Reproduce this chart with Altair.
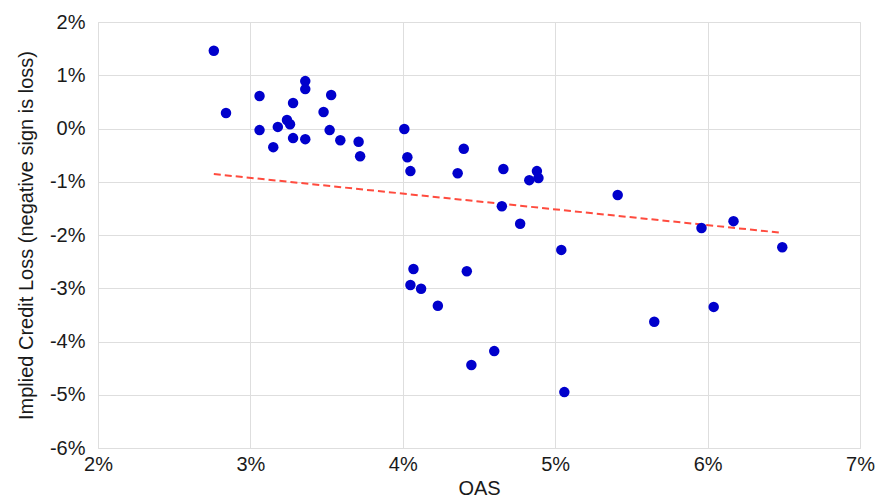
import altair as alt
import pandas as pd

oas = [2.76, 2.84, 3.06, 3.06, 3.15, 3.18, 3.24, 3.26, 3.28, 3.28,
       3.36, 3.36, 3.36, 3.48, 3.53, 3.52, 3.59, 3.71, 3.72, 4.01,
       4.03, 4.05, 4.40, 4.36, 4.66, 4.65, 4.77, 4.83, 4.88, 4.89,
       5.41, 5.04, 5.06, 4.07, 4.05, 4.12, 4.23, 4.42, 4.60, 4.45,
       5.65, 5.96, 6.04, 6.17, 6.49]
loss = [1.46, 0.29, 0.61, -0.03, -0.35, 0.03, 0.16, 0.08, 0.48, -0.18,
        0.89, 0.74, -0.20, 0.31, 0.63, -0.03, -0.22, -0.25, -0.52, -0.01,
        -0.54, -0.80, -0.38, -0.84, -0.76, -1.46, -1.79, -0.97, -0.80, -0.93,
        -1.25, -2.28, -4.95, -2.64, -2.94, -3.01, -3.33, -2.68, -4.18, -4.44,
        -3.63, -1.87, -3.35, -1.74, -2.23]

# trend line endpoints
trend_oas = [2.76, 6.49]
trend_loss = [-0.855, -1.96]

df = pd.DataFrame({"oas": oas, "loss": loss})
tdf = pd.DataFrame({"oas": trend_oas, "loss": trend_loss})

FONT = "Liberation Sans"
TXT = "#1a1a1a"

x = alt.X("oas:Q", scale=alt.Scale(domain=[2, 7], nice=False, zero=False),
          axis=alt.Axis(title="OAS", values=[2, 3, 4, 5, 6, 7],
                        labelExpr="datum.value + '%'", labelPadding=6,
                        labelFlush=False, titlePadding=4))
y = alt.Y("loss:Q", scale=alt.Scale(domain=[-6, 2], nice=False, zero=False),
          axis=alt.Axis(title="Implied Credit Loss (negative sign is loss)",
                        values=[-6, -5, -4, -3, -2, -1, 0, 1, 2],
                        labelExpr="datum.value + '%'", labelPadding=13,
                        labelFlush=False, titlePadding=13))

points = alt.Chart(df).mark_circle(size=110, opacity=1, color="#0000CC").encode(x=x, y=y)
trend = alt.Chart(tdf).mark_line(
    color="#FF4B3E", strokeDash=[7, 4], strokeWidth=2).encode(x=x, y=y)

chart = alt.layer(trend, points).properties(
    width=762, height=426,
    autosize=alt.AutoSizeParams(type="none"),
    padding={"left": 90, "top": 14, "right": 25, "bottom": 50},
).configure_axis(
    labelFont=FONT, titleFont=FONT, labelFontSize=20, titleFontSize=20,
    labelColor=TXT, titleColor=TXT, titleFontWeight="normal",
    gridColor="#dedede", domainColor="#dedede", ticks=False,
).configure_view(stroke="#dedede")

chart.save("out.html", embed_options={"renderer": "svg", "actions": False})
